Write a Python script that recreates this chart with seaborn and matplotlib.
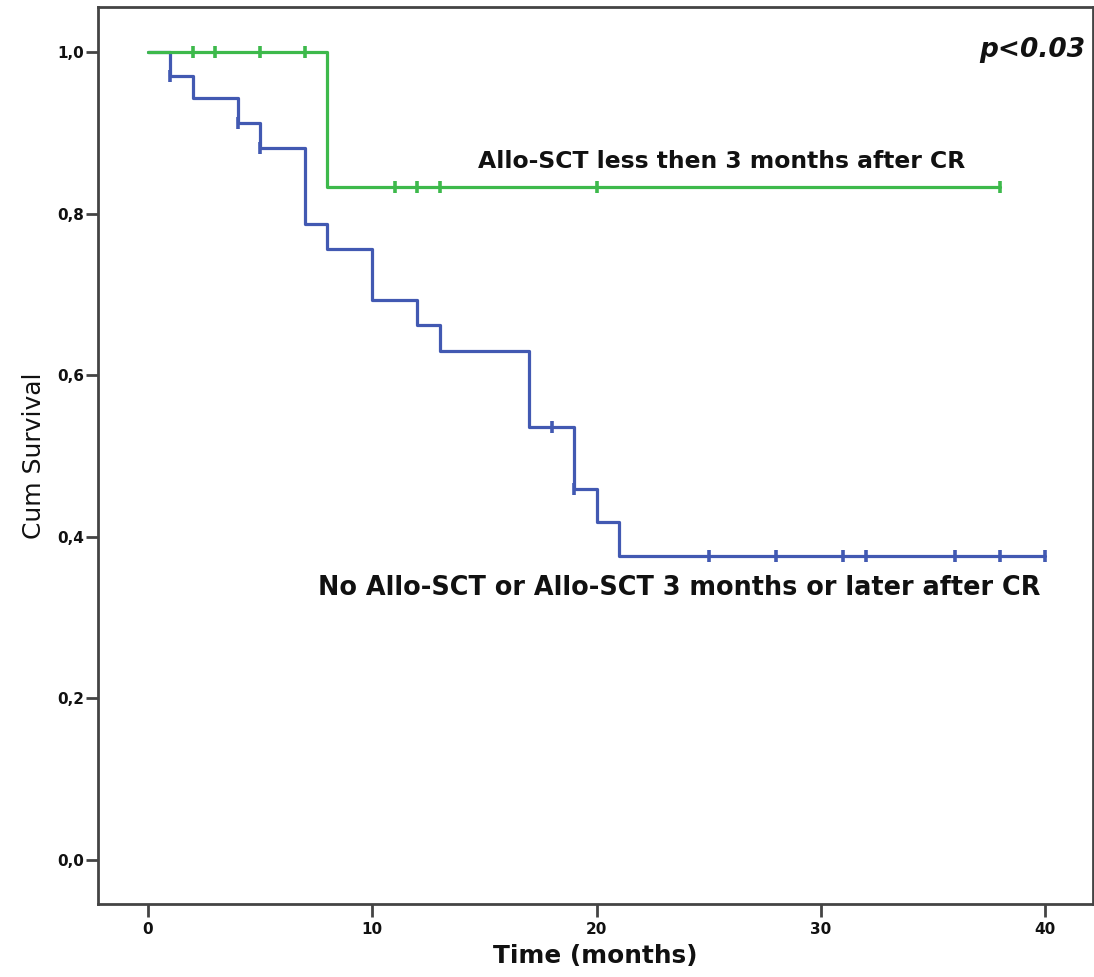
import matplotlib
matplotlib.use("Agg")
import matplotlib.pyplot as plt
import numpy as np
import pandas as pd
import seaborn as sns

# Kaplan-Meier step curves (time in months, cumulative survival after each event)
late_times = [0, 1, 2, 4, 5, 7, 8, 10, 12, 13, 17, 19, 20, 21, 40]
late_surv = [1.0, 0.970, 0.943, 0.912, 0.881, 0.787, 0.756, 0.693, 0.662,
             0.630, 0.536, 0.459, 0.418, 0.376, 0.376]
late_cens_t = [1, 4, 5, 18, 19, 25, 28, 31, 32, 36, 38, 40]
late_cens_s = [0.970, 0.912, 0.881, 0.536, 0.459, 0.376, 0.376, 0.376,
               0.376, 0.376, 0.376, 0.376]

early_times = [0, 8, 38]
early_surv = [1.0, 0.833, 0.833]
early_cens_t = [2, 3, 5, 7, 11, 12, 13, 20, 38]
early_cens_s = [1.0, 1.0, 1.0, 1.0, 0.833, 0.833, 0.833, 0.833, 0.833]

groups = ["No Allo-SCT or Allo-SCT 3 months or later after CR",
          "Allo-SCT less then 3 months after CR"]
colors = ["#4259b2", "#3db94b"]

x_ticks = [0, 10, 20, 30, 40]
y_ticks = [0.0, 0.2, 0.4, 0.6, 0.8, 1.0]
y_tick_labels = ["0,0", "0,2", "0,4", "0,6", "0,8", "1,0"]

curves = pd.concat([
    pd.DataFrame({"time": late_times, "surv": late_surv, "group": groups[0]}),
    pd.DataFrame({"time": early_times, "surv": early_surv, "group": groups[1]}),
], ignore_index=True)
censored = pd.concat([
    pd.DataFrame({"time": late_cens_t, "surv": late_cens_s, "group": groups[0]}),
    pd.DataFrame({"time": early_cens_t, "surv": early_cens_s, "group": groups[1]}),
], ignore_index=True)

sns.set_style("white")
plt.rcParams["font.family"] = ["DejaVu Sans"]

fig = plt.figure(figsize=(10.94, 9.77), dpi=100)
ax = fig.add_axes([98 / 1094, 73 / 977, 995 / 1094, 897 / 977])

palette = dict(zip(groups, colors))
sns.lineplot(data=curves, x="time", y="surv", hue="group", palette=palette,
             hue_order=groups, estimator=None, sort=False,
             drawstyle="steps-post", linewidth=2.3, legend=False, ax=ax)
sns.scatterplot(data=censored, x="time", y="surv", hue="group", palette=palette,
                hue_order=groups, marker="|", s=75, linewidth=2.6,
                legend=False, ax=ax, zorder=3)

ax.set_xlim(-2.23, 42.14)
ax.set_ylim(-0.0545, 1.0557)
ax.set_xticks(x_ticks)
ax.set_xticklabels([str(t) for t in x_ticks])
ax.set_yticks(y_ticks)
ax.set_yticklabels(y_tick_labels)

for lab in ax.get_xticklabels() + ax.get_yticklabels():
    lab.set_fontweight("bold")
    lab.set_fontsize(11)
    lab.set_color("#111111")

ax.tick_params(axis="both", direction="out", length=9, width=2,
               color="#444444", left=True, bottom=True)
ax.tick_params(axis="y", pad=1)
ax.tick_params(axis="x", pad=4)
for sp in ax.spines.values():
    sp.set_visible(True)
    sp.set_color("#444444")
    sp.set_linewidth(2)

ax.set_xlabel("Time (months)", fontsize=17.8, fontweight="bold", labelpad=5,
              color="#111111")
ax.set_ylabel("Cum Survival", fontsize=18, labelpad=8, color="#111111")

ax.text(14.72, 0.864, groups[1], fontsize=16.9, fontweight="bold",
        ha="left", va="center", color="#111111")
ax.text(7.58, 0.337, groups[0], fontsize=18.4, fontweight="bold",
        ha="left", va="center", color="#111111")
ax.text(41.78, 1.003, "p<0.03", fontsize=19, fontstyle="italic",
        fontweight="bold", ha="right", va="center", color="#111111")

fig.savefig("out.png", dpi=100)
